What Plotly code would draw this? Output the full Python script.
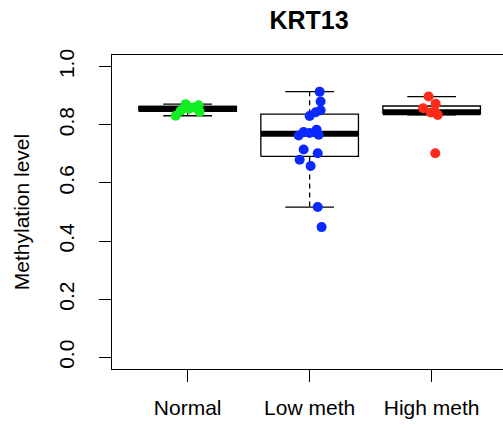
import numpy as np
import plotly.graph_objects as go

# ---- data ----
groups = ["Normal", "Low meth", "High meth"]
normal_vals = [0.831, 0.848, 0.871, 0.855, 0.859, 0.867, 0.845]
low_vals = [0.914, 0.880, 0.850, 0.843, 0.830, 0.783, 0.775, 0.772, 0.766,
            0.763, 0.715, 0.702, 0.680, 0.658, 0.517, 0.448]
high_vals = [0.897, 0.872, 0.857, 0.842, 0.843, 0.834, 0.702]
# horizontal jitter of the dots (category units)
normal_jit = [-0.098, -0.057, -0.016, 0.008, 0.049, 0.090, 0.098]
low_jit = [0.082, 0.090, 0.090, 0.050, 0.000, 0.057, -0.049, 0.000, 0.074,
           -0.090, -0.049, 0.066, -0.082, 0.008, 0.066, 0.098]
high_jit = [-0.025, 0.033, -0.070, -0.008, 0.030, 0.050, 0.030]
colors = ["#11EE22", "#0A28FF", "#FF2A1A"]
yticks = [0.0, 0.2, 0.4, 0.6, 0.8, 1.0]
ytick_text = ["0.0", "0.2", "0.4", "0.6", "0.8", "1.0"]

FONT = "Liberation Sans, Arial, sans-serif"


def fivenum(v):
    x = np.sort(np.asarray(v, dtype=float))
    n = len(x)
    n4 = np.floor((n + 3) / 2) / 2
    d = np.array([1, n4, (n + 1) / 2, n + 1 - n4, n]) - 1
    return 0.5 * (x[np.floor(d).astype(int)] + x[np.ceil(d).astype(int)])


fig = go.Figure()
all_vals = [normal_vals, low_vals, high_vals]
all_jit = [normal_jit, low_jit, high_jit]

for i, vals in enumerate(all_vals):
    c = i + 1
    mn, q1, med, q3, mx = fivenum(vals)
    iqr = q3 - q1
    arr = np.asarray(vals)
    lo = arr[arr >= q1 - 1.5 * iqr].min()
    hi = arr[arr <= q3 + 1.5 * iqr].max()
    hw, sw = 0.4, 0.2
    line = dict(color="black", width=1.3)
    # whiskers (dashed)
    fig.add_trace(go.Scatter(x=[c, c, None, c, c], y=[q3, hi, None, q1, lo],
                             mode="lines", line=dict(color="black", width=1.3, dash="5px,4px"),
                             hoverinfo="skip", showlegend=False))
    # staples
    fig.add_trace(go.Scatter(x=[c - sw, c + sw, None, c - sw, c + sw], y=[hi, hi, None, lo, lo],
                             mode="lines", line=line, hoverinfo="skip", showlegend=False))
    # box
    fig.add_trace(go.Scatter(x=[c - hw, c + hw, c + hw, c - hw, c - hw], y=[q1, q1, q3, q3, q1],
                             mode="lines", line=line, fill="toself", fillcolor="white",
                             hoverinfo="skip", showlegend=False))
    # median
    fig.add_trace(go.Scatter(x=[c - hw, c + hw], y=[med, med], mode="lines",
                             line=dict(color="black", width=6), hoverinfo="skip", showlegend=False))

for i, (vals, jit) in enumerate(zip(all_vals, all_jit)):
    c = i + 1
    fig.add_trace(go.Scatter(x=[c + j for j in jit], y=vals, mode="markers",
                             marker=dict(color=colors[i], size=10, line=dict(width=0)),
                             name=groups[i], showlegend=False))

fig.update_layout(
    width=503, height=428,
    margin=dict(l=112, r=0, t=55, b=59),
    paper_bgcolor="white", plot_bgcolor="white",
    font=dict(family=FONT, size=21, color="black"),
    title=dict(text="KRT13", x=(309 / 503), xanchor="center", y=1 - 20 / 428, yanchor="middle",
               xref="container", yref="container",
               font=dict(family=FONT, size=25, weight="bold", color="black")),
    xaxis=dict(range=[0.38, 0.38 + 391 / 122], tickvals=[1, 2, 3], ticktext=groups,
               ticks="outside", ticklen=12, tickwidth=1.3, tickcolor="black",
               showline=True, linecolor="black", linewidth=1.3, mirror=True,
               showgrid=False, zeroline=False, tickfont=dict(size=21), ticklabelstandoff=8),
    yaxis=dict(range=[-0.04, 1.04], tickvals=yticks, ticktext=ytick_text, tickangle=-90,
               ticks="outside", ticklen=12, tickwidth=1.3, tickcolor="black",
               showline=True, linecolor="black", linewidth=1.3, mirror=False,
               showgrid=False, zeroline=False, tickfont=dict(size=21), ticklabelstandoff=16,
               title=dict(text="Methylation level", font=dict(size=21), standoff=20)),
)

fig.write_html("out.html")
